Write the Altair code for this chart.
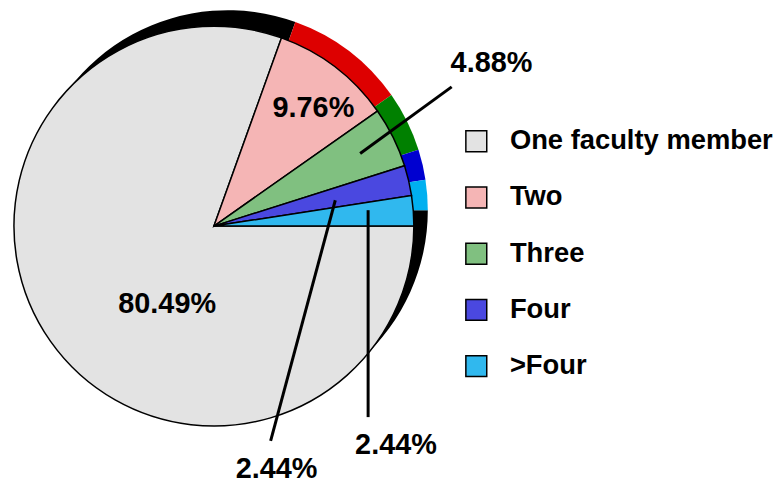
import math
import altair as alt
import pandas as pd

# ---- data ----
categories = ["One faculty member", "Two", "Three", "Four", ">Four"]
percent = [80.49, 9.76, 4.88, 2.44, 2.44]
labels = ["80.49%", "9.76%", "4.88%", "2.44%", "2.44%"]

# ---- styles ----
front_colors = ["#e3e3e3", "#f5b5b5", "#80c080", "#4a48e0", "#30b8ee"]
rim_colors = ["#000000", "#dd0000", "#008000", "#0000d0", "#00b0f0"]
FONT = "Liberation Sans"

W, H = 765, 467
CX, CY = 207, 218          # pie centre (plot coordinates)
R = 201
RIM_DX, RIM_DY = 14, -16   # offset of the back "3-D" rim pie

df = pd.DataFrame({
    "category": categories,
    "value": percent,
    "order": list(range(len(categories))),
    "rim": rim_colors,
})

theta = alt.Theta("value:Q", stack=True,
                  scale=alt.Scale(range=[math.pi / 2, math.pi / 2 + 2 * math.pi]))

base = alt.Chart(df)

rim = base.mark_arc(stroke=None).encode(
    theta=theta,
    order=alt.Order("order:Q"),
    color=alt.Color("rim:N", scale=None),
    x=alt.value(CX + RIM_DX),
    y=alt.value(CY + RIM_DY),
    radius=alt.value(R),
)

pie = base.mark_arc(stroke="black", strokeWidth=1.5).encode(
    theta=theta,
    order=alt.Order("order:Q"),
    color=alt.Color(
        "category:N",
        sort=categories,
        scale=alt.Scale(domain=categories, range=front_colors),
        legend=alt.Legend(
            title=None,
            orient="none",
            legendX=457,
            legendY=119,
            symbolType="square",
            symbolSize=441,
            symbolStrokeColor="black",
            symbolStrokeWidth=1.5,
            symbolOpacity=1,
            labelFont=FONT,
            labelFontSize=27.5,
            labelFontWeight="bold",
            labelColor="black",
            labelOffset=20,
            rowPadding=27.5,
            padding=0,
            labelLimit=400,
        ),
    ),
    x=alt.value(CX),
    y=alt.value(CY),
    radius=alt.value(R),
)

# ---- annotation layout (pixel positions, plot coordinates) ----
label_pos = pd.DataFrame({
    "text": labels,
    "x": [160, 307, 486, 270, 390],
    "y": [296, 99, 54, 462, 438],
})

leader = pd.DataFrame({
    "x": [354, 329, 362],
    "y": [145, 192, 202],
    "x2": [446, 264, 362],
    "y2": [78, 434, 410],
})

texts = alt.Chart(label_pos).mark_text(
    font=FONT, fontSize=29, fontWeight="bold", color="black",
    align="center", baseline="middle",
).encode(
    x=alt.X("x:Q", scale=None, axis=None),
    y=alt.Y("y:Q", scale=None, axis=None),
    text="text:N",
)

lines = alt.Chart(leader).mark_rule(color="black", strokeWidth=3).encode(
    x=alt.X("x:Q", scale=None, axis=None),
    y=alt.Y("y:Q", scale=None, axis=None),
    x2="x2:Q",
    y2="y2:Q",
)

chart = alt.layer(rim, pie, lines, texts).properties(
    width=W, height=H, padding=0,
).configure_view(stroke=None).resolve_scale(color="independent")

chart.save("out.html", embed_options={"renderer": "svg", "actions": False})
